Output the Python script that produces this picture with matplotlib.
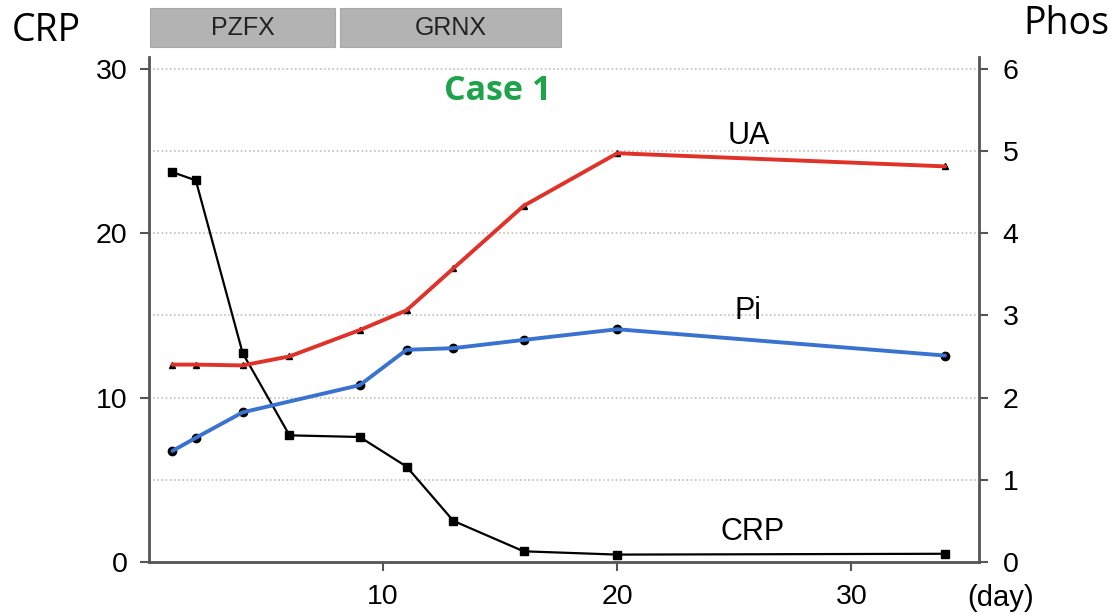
import matplotlib
matplotlib.use("Agg")
import matplotlib.pyplot as plt
from matplotlib.patches import Rectangle
import matplotlib.transforms as mtransforms

# ---- data ----
crp_days = [1, 2, 4, 6, 9, 11, 13, 16, 20, 34]
crp_vals = [23.7, 23.2, 12.7, 7.7, 7.6, 5.8, 2.5, 0.65, 0.45, 0.5]

ua_days = [1, 2, 4, 6, 9, 11, 13, 16, 20, 34]
ua_vals = [2.40, 2.40, 2.39, 2.50, 2.82, 3.06, 3.57, 4.33, 4.97, 4.81]

pi_days = [1, 2, 4, 9, 11, 13, 16, 20, 34]
pi_vals = [1.35, 1.51, 1.82, 2.15, 2.58, 2.60, 2.70, 2.83, 2.51]

drug_names = ["PZFX", "GRNX"]
drug_start = [0.05, 8.15]
drug_end = [7.95, 17.6]

x_ticks = [10, 20, 30]
left_ticks = [0, 10, 20, 30]
right_ticks = [0, 1, 2, 3, 4, 5, 6]
grid_levels = [5, 10, 15, 20, 25, 30]

tick_font = "Liberation Sans"

fig = plt.figure(figsize=(11.14, 6.15), dpi=100)
ax = fig.add_axes([149/1114, 53/615, (979-149)/1114, (562-57)/615])
ax2 = ax.twinx()

ax.set_xlim(0, 35.45)
ax.set_ylim(0, 30.7)
ax2.set_ylim(0, 6.14)

for y in grid_levels:
    ax.axhline(y, color="#c0c0c0", lw=1.2, ls=(0, (1.0, 1.5)), zorder=0)

# CRP
ax.plot(crp_days, crp_vals, color="black", lw=1.6, marker="s", ms=6, zorder=3)
# UA
ax2.plot(ua_days, ua_vals, color="black", lw=1.6, marker="^", ms=5, zorder=3)
ax2.plot(ua_days, ua_vals, color="#e03228", lw=2.8, zorder=4, solid_capstyle="round")
# Pi
ax2.plot(pi_days, pi_vals, color="black", lw=1.6, marker="o", ms=6, zorder=3)
ax2.plot(pi_days, pi_vals, color="#3a72d0", lw=2.8, zorder=4, solid_capstyle="round")

for a in (ax, ax2):
    a.spines["top"].set_visible(False)
    for s in ("left", "right", "bottom"):
        a.spines[s].set_color("#555555")
        a.spines[s].set_linewidth(2)
ax.spines["right"].set_visible(False)
ax2.spines["left"].set_visible(False)
ax2.spines["bottom"].set_visible(False)

ax.set_xticks(x_ticks)
ax.set_yticks(left_ticks)
ax2.set_yticks(right_ticks)
ax.tick_params(axis="both", direction="out", length=6.5, width=1.5, color="#555555",
               labelsize=20.5, pad=9)
ax2.tick_params(axis="y", direction="out", length=6.5, width=1.5, color="#555555",
                labelsize=20.5, pad=10.5)
for lab in ax.get_xticklabels() + ax.get_yticklabels() + ax2.get_yticklabels():
    lab.set_fontfamily(tick_font)

# series labels
ax2.text(25.6, 5.18, "UA", fontsize=22, family=tick_font, ha="center", va="center")
ax2.text(25.6, 3.05, "Pi", fontsize=22, family=tick_font, ha="center", va="center")
ax.text(25.8, 1.85, "CRP", fontsize=22, family=tick_font, ha="center", va="center")

# drug bars
trans = mtransforms.blended_transform_factory(ax.transData, ax.transAxes)
for name, s, e in zip(drug_names, drug_start, drug_end):
    r = Rectangle((s, 1.02), e - s, 0.077, transform=trans, facecolor="#b3b3b3",
                  edgecolor="#a8a8a8", lw=0.8, clip_on=False)
    ax.add_patch(r)
    ax.text((s + e) / 2, 1.058, name, transform=trans, ha="center", va="center",
            fontsize=18, family=tick_font, color="#222222")

fig.text(46/1114, 1 - 31/615, "CRP", fontsize=27, family="Open Sans", ha="center", va="center")
fig.text(1066/1114, 1 - 24/615, "Phos", fontsize=27, family="Open Sans", ha="center", va="center")
fig.text(498/1114, 1 - 91/615, "Case 1", fontsize=24.5, family="Open Sans", fontweight="bold",
         color="#1ea34b", ha="center", va="center")
fig.text(1001/1114, 1 - 598/615, "(day)", fontsize=21, family=tick_font, ha="center", va="center")

fig.savefig("out.png", dpi=100)
